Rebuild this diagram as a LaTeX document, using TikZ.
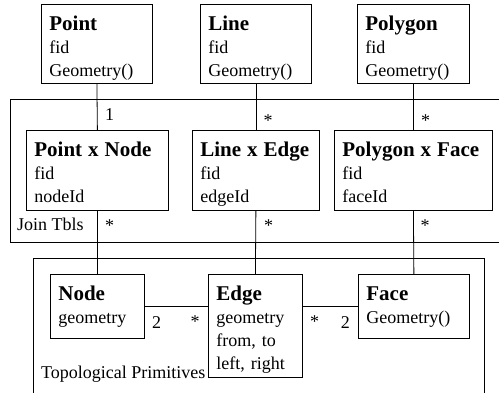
\documentclass[tikz,border=0pt]{standalone}
\usepackage{fontspec}
\setmainfont{Liberation Serif}
\usepackage{tikz}
\usetikzlibrary{positioning}

\newcommand{\tblname}[1]{{\fontsize{21}{23}\selectfont\bfseries #1}}

\begin{document}
\begin{tikzpicture}[x=1pt, y=-1pt,
    tbl/.style={draw, line width=0.8pt, align=left, anchor=north west,
        inner xsep=8pt, inner ysep=0pt, text height=26pt,
        font=\fontsize{18}{23}\selectfont},
    mult/.style={anchor=base, inner sep=0pt, font=\fontsize{18}{22}\selectfont},
    pkg/.style={line width=0.8pt}]
                \useasboundingbox (0,0) rectangle (499,393);

                % Paketrahmen
                \draw[pkg] (499,99) -- (10,99) -- (10,242) -- (499,242);
                \draw[pkg] (33,393) -- (33,258) -- (484,258) -- (484,393);
                \node[anchor=base west, inner sep=0pt, font=\fontsize{18}{22}\selectfont] (jointxt) at (17,231) {Join Tbls};
                \node[anchor=base west, inner sep=0pt, font=\fontsize{18}{22}\selectfont] (topotxt) at (41,379) {Topological Primitives};

                % Geometrie-Tabellen
                \node[tbl, text width=95pt, text depth=53pt] (point) at (41,4) {\tblname{Point}\\fid\\Geometry()};
                \node[tbl, text width=95pt, text depth=53pt] (line) at (200,4) {\tblname{Line}\\fid\\Geometry()};
                \node[tbl, text width=96pt, text depth=53pt] (polygon) at (357,4) {\tblname{Polygon}\\fid\\Geometry()};

                % Join-Tabellen
                \node[tbl, text width=126pt, text depth=54pt] (pxn) at (26,130) {\tblname{Point x Node}\\fid\\nodeId};
                \node[tbl, text width=111pt, text depth=54pt] (lxe) at (192,130) {\tblname{Line x Edge}\\fid\\edgeId};
                \node[tbl, text width=142pt, text depth=54pt] (pxf) at (334,130) {\tblname{Polygon x Face}\\fid\\faceId};

                % Primitive
                \node[tbl, text width=78pt, text depth=38pt] (node) at (50,274) {\tblname{Node}\\geometry};
                \node[tbl, text width=78pt, text depth=77pt] (edge) at (208,274) {\tblname{Edge}\\geometry\\from, to\\left, right};
                \node[tbl, text width=95pt, text depth=38pt] (face) at (358,274) {\tblname{Face}\\Geometry()};

                % Verbindungen
                \draw[pkg] (point.south) -- (pxn.north);
                \draw[pkg] (line.south) -- (lxe.north);
                \draw[pkg] (polygon.south) -- (pxf.north);
                \draw[pkg] (pxn.south) -- (node.north);
                \draw[pkg] (lxe.south) -- (edge.north);
                \draw[pkg] (pxf.south) -- (face.north);
                \draw[pkg] (node.east) -- (node.east -| edge.west);
                \draw[pkg] (face.west) -- (face.west -| edge.east);

                % Multiplizitaeten
                \node[mult] (m1) at (109.5,121) {1};
                \node[mult] (m2) at (268,126.5) {*};
                \node[mult] (m3) at (425.5,126.5) {*};
                \node[mult] (m4) at (109.5,232) {*};
                \node[mult] (m5) at (268.5,232) {*};
                \node[mult] (m6) at (425,232) {*};
                \node[mult] (m7) at (156.7,329) {2};
                \node[mult] (m8) at (195,327.5) {*};
                \node[mult] (m9) at (314.5,327.5) {*};
                \node[mult] (m10) at (345.4,329) {2};
            \end{tikzpicture}
\end{document}
